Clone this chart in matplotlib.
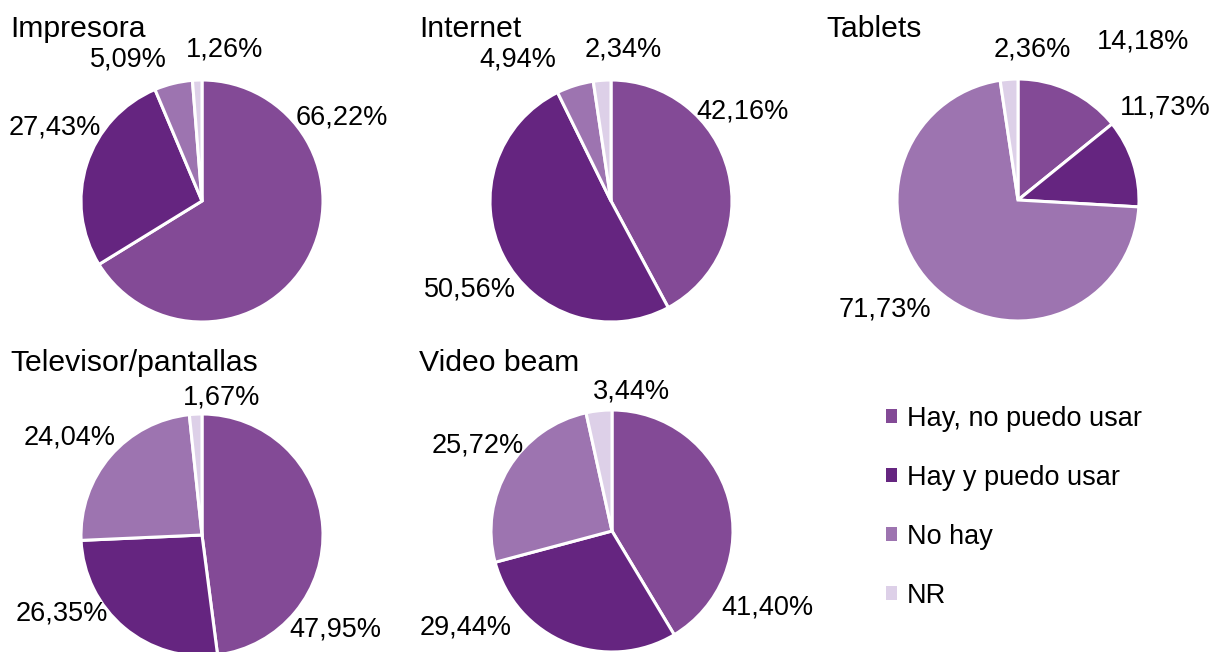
import matplotlib.pyplot as plt
from matplotlib.patches import Patch

plt.rcParams['font.family'] = ['Liberation Sans', 'DejaVu Sans']

categories = ['Hay, no puedo usar', 'Hay y puedo usar', 'No hay', 'NR']
titles = ['Impresora', 'Internet', 'Tablets', 'Televisor/pantallas', 'Video beam']
impresora = [66.22, 27.43, 5.09, 1.26]
internet = [42.16, 50.56, 4.94, 2.34]
tablets = [14.18, 11.73, 71.73, 2.36]
televisor = [47.95, 26.35, 24.04, 1.67]
video_beam = [41.40, 29.44, 25.72, 3.44]
series = [impresora, internet, tablets, televisor, video_beam]

colors = ['#834A96', '#652580', '#9D74B0', '#DDD0E8']

# layout in pixels (x right, y down), converted below
W, H = 1212, 652
R = 121
centers = [(202, 201), (611, 201), (1018, 200), (202, 535), (612, 531)]
title_pos = [(10, 29), (419, 29), (826, 29), (10, 363), (419, 363)]
# label offsets from each pie centre, in pixels
label_off = [
    [(140, -83), (-147, -73), (-74, -141), (23, -151)],
    [(132, -89), (-141, 89), (-93, -141), (12, -151)],
    [(125, -158), (147, -93), (-133, 110), (14, -150)],
    [(133, 95), (-140, 78), (-132, -97), (20, -138)],
    [(155, 77), (-146, 97), (-134, -86), (19, -139)],
]

fig = plt.figure(figsize=(W / 100, H / 100), dpi=100)
ax = fig.add_axes([0, 0, 1, 1])

for vals, (cx, cy), title, tpos, offs in zip(series, centers, titles, title_pos, label_off):
    ax.pie(vals, colors=colors, startangle=90, counterclock=False,
           center=(cx, H - cy), radius=R,
           wedgeprops=dict(edgecolor='white', linewidth=2.2))
    ax.text(tpos[0], H - tpos[1], title, fontsize=21.7, ha='left', va='center')
    for v, (dx, dy) in zip(vals, offs):
        txt = f'{v:.2f}%'.replace('.', ',')
        ax.text(cx + dx, H - (cy + dy), txt, fontsize=19.5, ha='center', va='center')

ax.set_xlim(0, W)
ax.set_ylim(0, H)
ax.set_aspect('equal')
ax.axis('off')

handles = [Patch(facecolor=c, edgecolor='none') for c in colors]
fig.legend(handles, categories, loc='upper left', bbox_to_anchor=(886 / W, 1 - 406 / H),
           frameon=False, fontsize=19.5, handlelength=0.42, handleheight=0.42,
           handletextpad=0.35, labelspacing=1.22, borderpad=0, borderaxespad=0)

fig.savefig('out.png', dpi=100)
